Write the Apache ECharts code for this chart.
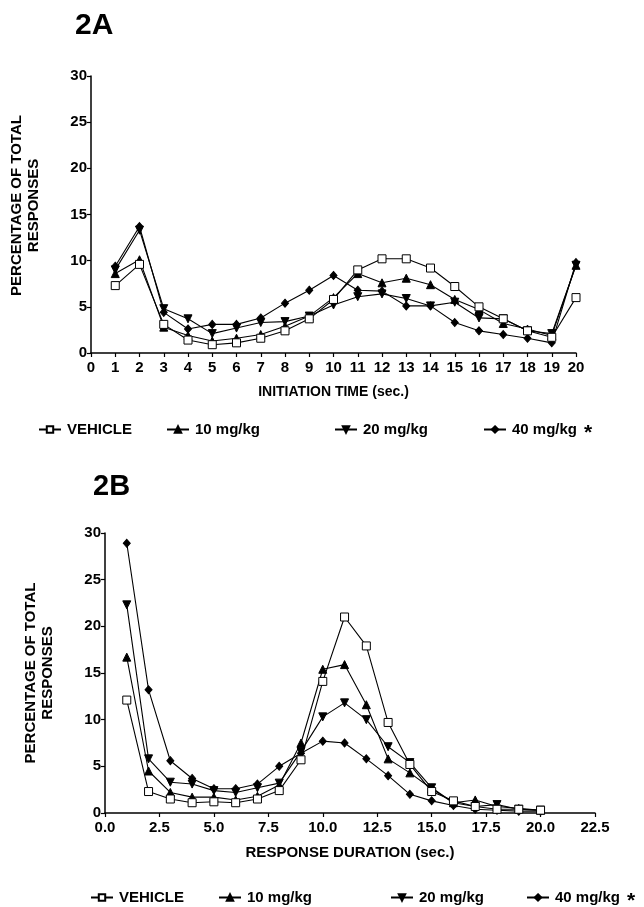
<!DOCTYPE html>
<html>
<head>
<meta charset="utf-8">
<script src="https://cdn.jsdelivr.net/npm/echarts@6/dist/echarts.min.js"></script>
<style>
html,body{margin:0;padding:0;background:#fff;}
#c{width:644px;height:907px;}
</style>
</head>
<body>
<div id="c"></div>
<script>
// ---- Data ----
const seriesNames = ['VEHICLE', '10 mg/kg', '20 mg/kg', '40 mg/kg'];
const xA = [1,2,3,4,5,6,7,8,9,10,11,12,13,14,15,16,17,18,19,20];
const xB = [1,2,3,4,5,6,7,8,9,10,11,12,13,14,15,16,17,18,19,20];

// Panel 2A: initiation time
const aVehicle = [7.3, 9.6, 3.1, 1.4, 0.9, 1.1, 1.6, 2.4, 3.7, 5.8, 9.0, 10.2, 10.2, 9.2, 7.2, 5.0, 3.7, 2.4, 1.7, 6.0];
const a10 = [8.6, 10.1, 2.8, 1.9, 1.3, 1.6, 2.0, 2.9, 4.0, 6.0, 8.6, 7.6, 8.1, 7.4, 5.8, 4.7, 3.2, 2.6, 1.9, 9.5];
const a20 = [9.0, 13.3, 4.8, 3.7, 2.1, 2.7, 3.3, 3.4, 4.0, 5.2, 6.1, 6.4, 5.9, 5.1, 5.5, 3.8, 3.7, 2.4, 2.1, 9.5];
const a40 = [9.4, 13.7, 4.4, 2.6, 3.1, 3.1, 3.8, 5.4, 6.8, 8.4, 6.8, 6.7, 5.1, 5.1, 3.3, 2.4, 2.0, 1.6, 1.1, 9.8];

// Panel 2B: response duration
const bVehicle = [12.1, 2.3, 1.5, 1.1, 1.2, 1.1, 1.5, 2.4, 5.7, 14.1, 21.0, 17.9, 9.7, 5.2, 2.3, 1.3, 0.7, 0.4, 0.4, 0.3];
const b10 = [16.7, 4.5, 2.2, 1.7, 1.7, 1.4, 1.8, 3.0, 7.5, 15.4, 15.9, 11.6, 5.8, 4.3, 2.6, 1.1, 1.4, 0.7, 0.5, 0.3];
const b20 = [22.3, 5.8, 3.3, 3.1, 2.4, 2.2, 2.7, 3.2, 6.6, 10.3, 11.8, 10.0, 7.1, 5.4, 2.7, 1.1, 0.7, 0.9, 0.4, 0.3];
const b40 = [28.9, 13.2, 5.6, 3.7, 2.6, 2.6, 3.1, 5.0, 6.4, 7.7, 7.5, 5.8, 4.0, 2.0, 1.3, 0.8, 0.4, 0.3, 0.2, 0.2];

const yTicks = [0, 5, 10, 15, 20, 25, 30];

// ---- Styling ----
const FONT = '"Liberation Sans", Arial, sans-serif';
const symbols = {
  'VEHICLE': {symbol: 'rect', size: 8, fill: '#fff'},
  '10 mg/kg': {symbol: 'triangle', size: 8, fill: '#000'},
  '20 mg/kg': {symbol: 'path://M0,0 L10,0 L5,9 Z', size: 8, fill: '#000'},
  '40 mg/kg': {symbol: 'diamond', size: [7, 8], fill: '#000'}
};

function pair(xs, ys) { return xs.map((x, i) => [x, ys[i]]); }

function mkSeries(name, xs, ys, gi) {
  const s = symbols[name];
  return {
    name: name, type: 'line', xAxisIndex: gi, yAxisIndex: gi,
    data: pair(xs, ys),
    symbol: s.symbol, symbolSize: s.size, showSymbol: true,
    lineStyle: {color: '#000', width: 1.1},
    itemStyle: {color: s.fill, borderColor: '#000', borderWidth: 1},
    z: name === 'VEHICLE' ? 5 : 3,
    animation: false
  };
}

const axisLine = {show: true, lineStyle: {color: '#000', width: 1.5}};
const axisTick = {show: true, inside: false, length: 4, lineStyle: {color: '#000', width: 1.2}};
const xLabel = {color: '#000', fontFamily: FONT, fontWeight: 'bold', fontSize: 15, margin: 7};
const yLabel = {color: '#000', fontFamily: FONT, fontWeight: 'bold', fontSize: 15, margin: 4};
const nameText = (fs) => ({color: '#000', fontFamily: FONT, fontWeight: 'bold', fontSize: fs});

function yAx(gi, pad) {
  return {
    type: 'value', gridIndex: gi, min: yTicks[0], max: yTicks[yTicks.length - 1], interval: 5,
    splitLine: {show: false}, axisLine, axisTick, axisLabel: yLabel,
    name: 'PERCENTAGE OF TOTAL\nRESPONSES', nameLocation: 'middle', nameGap: 49,
    nameTextStyle: Object.assign({lineHeight: 17, align: 'center', padding: pad}, nameText(15))
  };
}

function legendItem(name, left, top) {
  return {
    data: [name], left: left, top: top, orient: 'horizontal',
    itemWidth: 22, itemHeight: 8, itemGap: 4, selectedMode: false, padding: 0,
    textStyle: {color: '#000', fontFamily: FONT, fontWeight: 'bold', fontSize: 15, padding: [0, 0, 0, 1],
      rich: {s: {fontSize: 21, fontWeight: 'bold', fontFamily: FONT, padding: [7, 0, 0, 7]}}},
    formatter: n => n === '40 mg/kg' ? n + '{s|*}' : n
  };
}

const chart = echarts.init(document.getElementById('c'), null, {renderer: 'canvas'});
const option = {
  backgroundColor: '#fff',
  animation: false,
  title: [
    {text: '2A', left: 70, top: 6, textStyle: {fontFamily: FONT, fontWeight: 'bold', fontSize: 30, color: '#000'}},
    {text: '2B', left: 88, top: 467, textStyle: {fontFamily: FONT, fontWeight: 'bold', fontSize: 29, color: '#000'}}
  ],
  legend: [
    legendItem('VEHICLE', 38, 422),
    legendItem('10 mg/kg', 166, 422),
    legendItem('20 mg/kg', 334, 422),
    legendItem('40 mg/kg', 483, 422),
    legendItem('VEHICLE', 90, 890),
    legendItem('10 mg/kg', 218, 890),
    legendItem('20 mg/kg', 390, 890),
    legendItem('40 mg/kg', 526, 890)
  ],
  grid: [
    {left: 89, top: 76, width: 487, height: 277},
    {left: 105, top: 533, width: 490, height: 280}
  ],
  xAxis: [
    {type: 'value', gridIndex: 0, min: 0, max: 20, interval: 1, splitLine: {show: false},
     axisLine, axisTick, axisLabel: xLabel,
     name: 'INITIATION TIME (sec.)', nameLocation: 'middle', nameGap: 32, nameTextStyle: nameText(14)},
    {type: 'value', gridIndex: 1, min: 0, max: 22.5, interval: 2.5, splitLine: {show: false},
     axisLine, axisTick,
     axisLabel: Object.assign({}, xLabel, {formatter: v => v.toFixed(1)}),
     name: 'RESPONSE DURATION (sec.)', nameLocation: 'middle', nameGap: 32, nameTextStyle: nameText(15)}
  ],
  yAxis: [yAx(0, [0, 0, 0, 18]), yAx(1, [0, 0, 0, 0])],
  series: [
    mkSeries('VEHICLE', xA, aVehicle, 0),
    mkSeries('10 mg/kg', xA, a10, 0),
    mkSeries('20 mg/kg', xA, a20, 0),
    mkSeries('40 mg/kg', xA, a40, 0),
    mkSeries('VEHICLE', xB, bVehicle, 1),
    mkSeries('10 mg/kg', xB, b10, 1),
    mkSeries('20 mg/kg', xB, b20, 1),
    mkSeries('40 mg/kg', xB, b40, 1)
  ]
};
chart.setOption(option);
</script>
</body>
</html>
